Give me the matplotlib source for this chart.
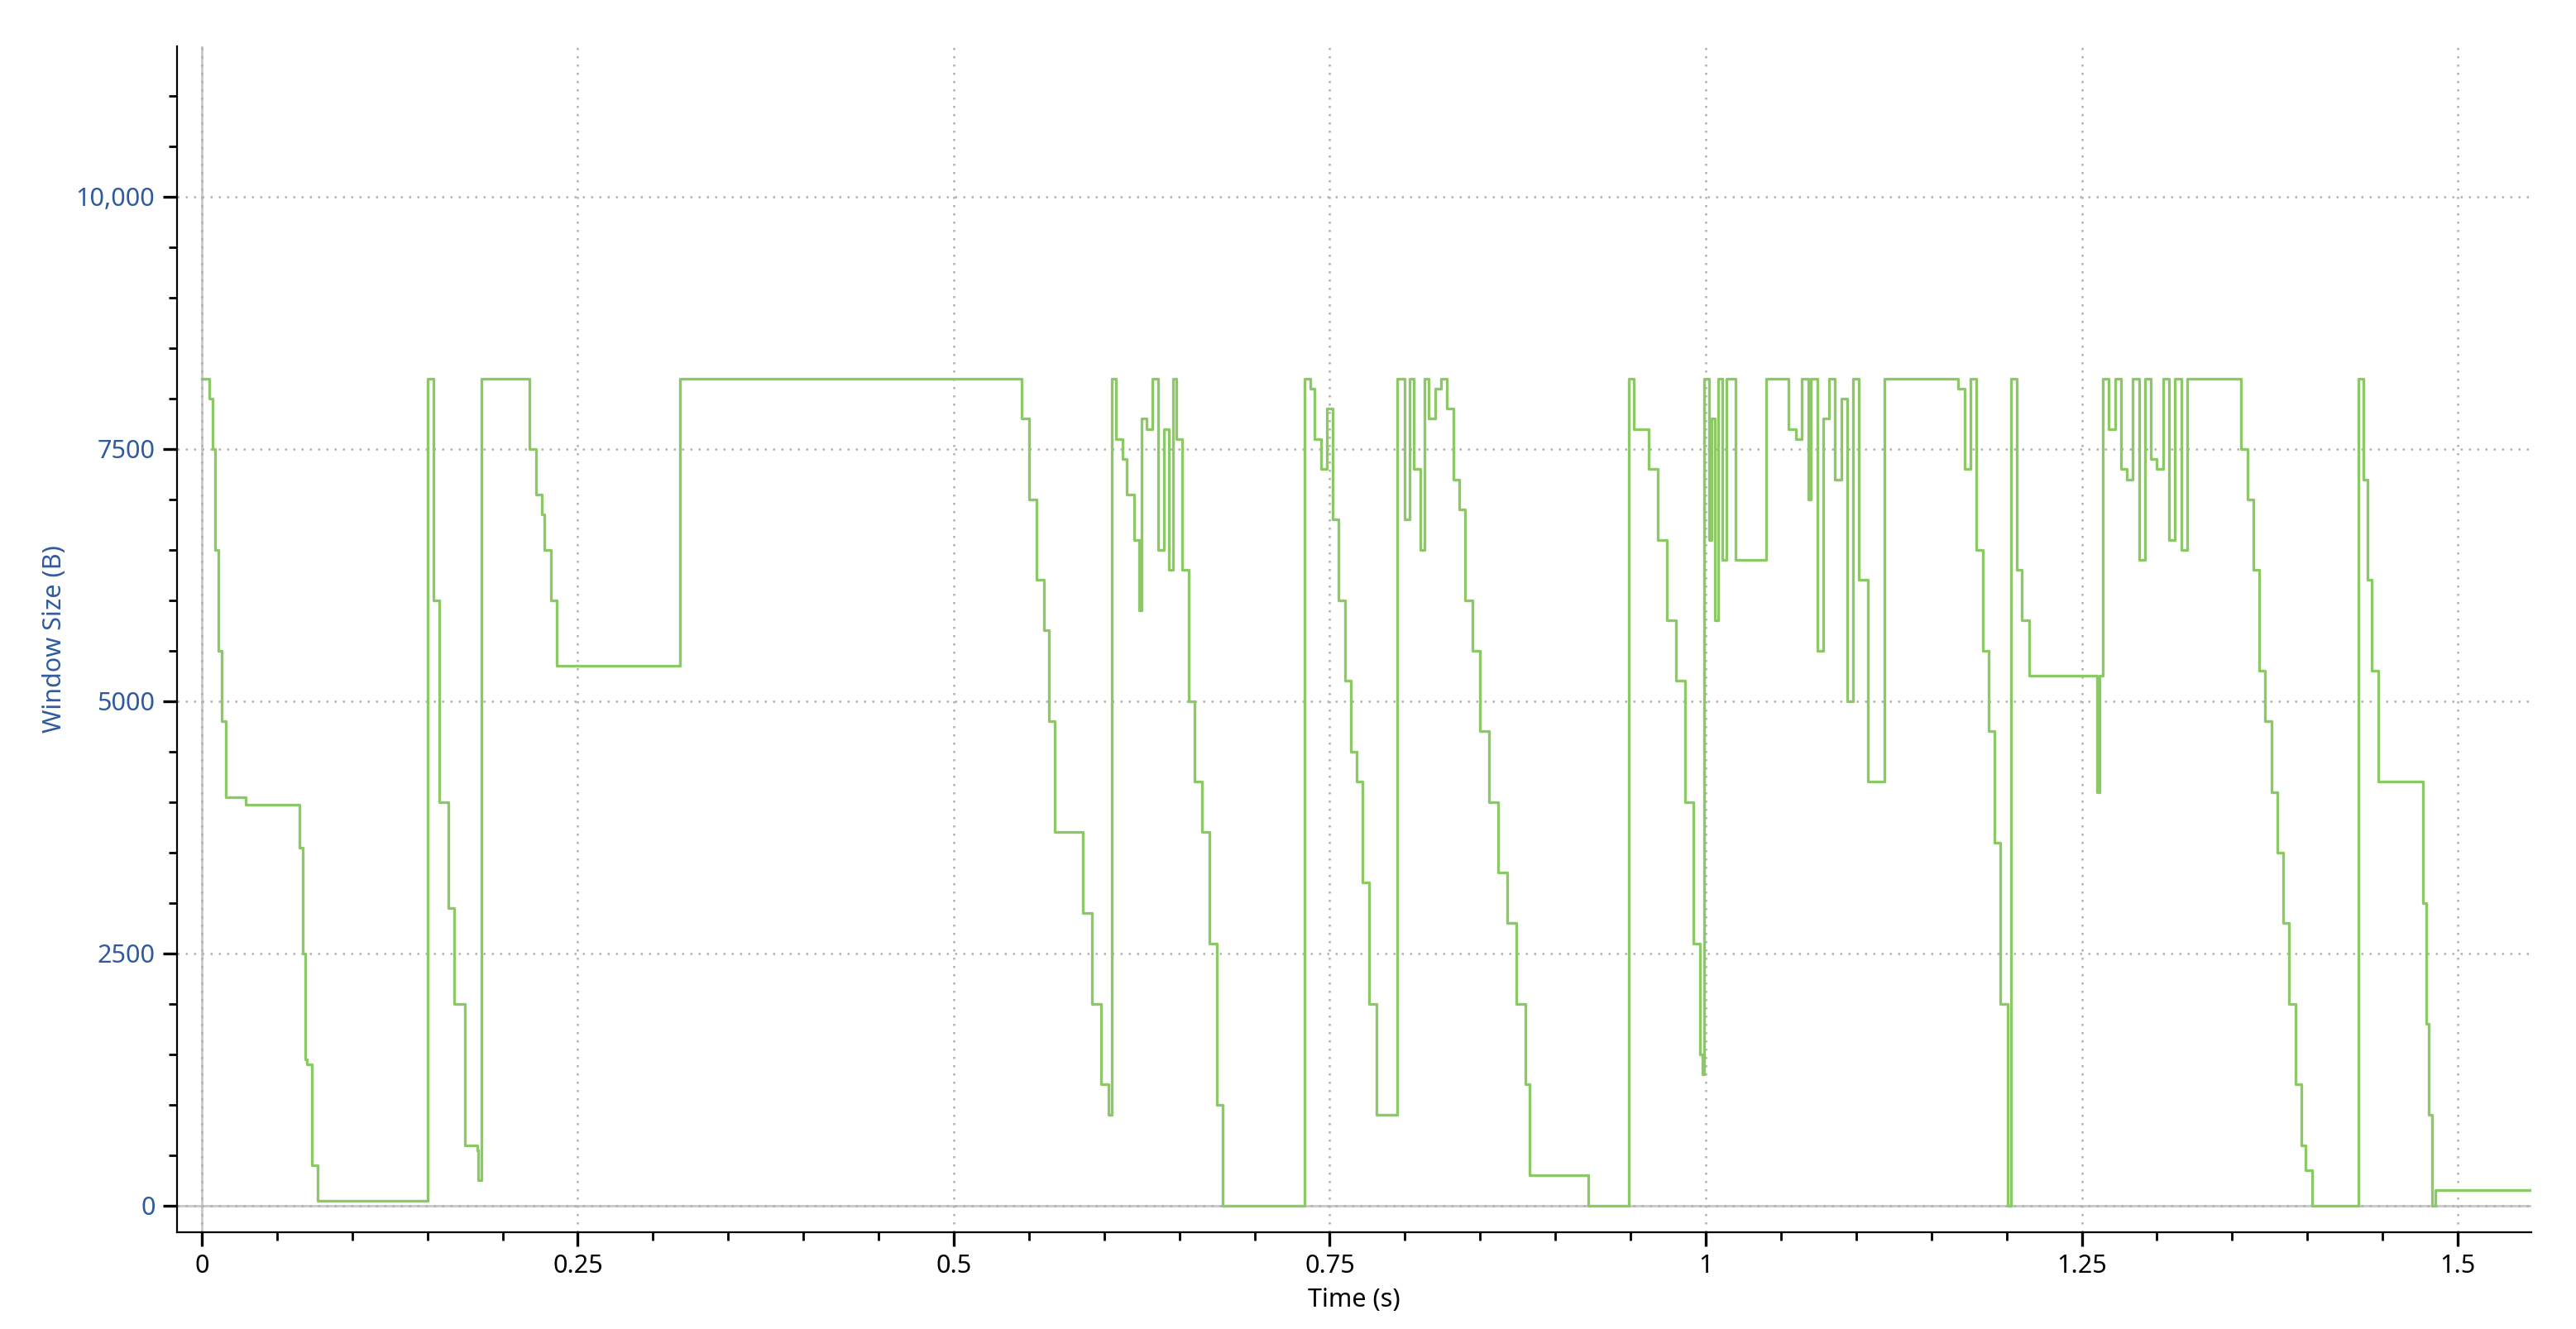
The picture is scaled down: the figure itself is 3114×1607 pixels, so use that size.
import numpy as np
import matplotlib
matplotlib.use('Agg')
import matplotlib.pyplot as plt
from matplotlib.ticker import MultipleLocator, FuncFormatter

plt.rcParams['font.family'] = ['Noto Sans', 'DejaVu Sans']

# window size trace (time s, bytes), drawn as a step line
t = [0.000, 0.003, 0.005, 0.007, 0.009, 0.011, 0.013, 0.016, 0.029, 0.065, 0.067, 0.069, 0.070, 0.073, 0.077,
     0.150, 0.154, 0.158, 0.164, 0.168, 0.175, 0.183, 0.184, 0.186,
     0.215, 0.218, 0.222, 0.226, 0.228, 0.232, 0.236, 0.318,
     0.541, 0.545, 0.550, 0.555, 0.560, 0.563, 0.567, 0.586, 0.592, 0.598, 0.603,
     0.605, 0.608, 0.612, 0.615, 0.620, 0.623, 0.625, 0.628, 0.632, 0.636, 0.640, 0.643, 0.646, 0.648,
     0.652, 0.656, 0.660, 0.665, 0.670, 0.675, 0.679,
     0.733, 0.737, 0.740, 0.744, 0.748, 0.752, 0.756, 0.760, 0.764, 0.768, 0.772, 0.776, 0.781,
     0.795, 0.800, 0.803, 0.806, 0.810, 0.813, 0.816, 0.820, 0.824, 0.828, 0.832, 0.836,
     0.840, 0.845, 0.850, 0.856, 0.862, 0.868, 0.874, 0.880, 0.883, 0.922,
     0.949, 0.952, 0.956, 0.962, 0.968, 0.974, 0.980, 0.986, 0.992, 0.996, 0.998,
     0.999, 1.002, 1.004, 1.006, 1.008, 1.011, 1.014, 1.020, 1.040,
     1.050, 1.055, 1.060, 1.064, 1.068, 1.070, 1.074, 1.078, 1.082, 1.086, 1.090, 1.094, 1.098, 1.102,
     1.108, 1.119, 1.160, 1.168, 1.172, 1.176, 1.180, 1.184, 1.188, 1.192, 1.196, 1.201,
     1.203, 1.207, 1.210, 1.215, 1.258, 1.260, 1.262,
     1.264, 1.268, 1.272, 1.276, 1.280, 1.284, 1.288, 1.292, 1.296, 1.300, 1.304, 1.308, 1.312, 1.316, 1.320,
     1.352, 1.356, 1.360, 1.364, 1.368, 1.372, 1.376, 1.380, 1.384, 1.388, 1.392, 1.396, 1.399, 1.403,
     1.434, 1.437, 1.440, 1.443, 1.447, 1.475, 1.477, 1.479, 1.481, 1.483, 1.485, 1.549]
w = [8200, 8200, 8000, 7500, 6500, 5500, 4800, 4050, 3970, 3550, 2500, 1450, 1400, 400, 50,
     8200, 6000, 4000, 2950, 2000, 600, 550, 250, 8200,
     8200, 7500, 7050, 6850, 6500, 6000, 5350, 8200,
     8200, 7800, 7000, 6200, 5700, 4800, 3700, 2900, 2000, 1200, 900,
     8200, 7600, 7400, 7050, 6600, 5900, 7800, 7700, 8200, 6500, 7700, 6300, 8200, 7600,
     6300, 5000, 4200, 3700, 2600, 1000, 0,
     8200, 8100, 7600, 7300, 7900, 6800, 6000, 5200, 4500, 4200, 3200, 2000, 900,
     8200, 6800, 8200, 7300, 6500, 8200, 7800, 8100, 8200, 7900, 7200, 6900,
     6000, 5500, 4700, 4000, 3300, 2800, 2000, 1200, 300, 0,
     8200, 7700, 7700, 7300, 6600, 5800, 5200, 4000, 2600, 1500, 1300,
     8200, 6600, 7800, 5800, 8200, 6400, 8200, 6400, 8200,
     8200, 7700, 7600, 8200, 7000, 8200, 5500, 7800, 8200, 7200, 8000, 5000, 8200, 6200,
     4200, 8200, 8200, 8100, 7300, 8200, 6500, 5500, 4700, 3600, 2000, 0,
     8200, 6300, 5800, 5250, 5250, 4100, 5250,
     8200, 7700, 8200, 7300, 7200, 8200, 6400, 8200, 7400, 7300, 8200, 6600, 8200, 6500, 8200,
     8200, 7500, 7000, 6300, 5300, 4800, 4100, 3500, 2800, 2000, 1200, 600, 350, 0,
     8200, 7200, 6200, 5300, 4200, 4200, 3000, 1800, 900, 0, 150, 150]

fig = plt.figure(figsize=(15.57, 8.035), dpi=200)
ax = fig.add_axes([0.0687, 0.073, 0.914, 0.892])

ax.axhline(0, color='#c8c8c8', lw=1.0, zorder=1)
ax.axvline(0, color='#c8c8c8', lw=1.0, zorder=1)
ax.step(t, w, where='post', color='#8cc865', lw=1.2, zorder=3)

ax.set_xlim(-0.0165, 1.549)
ax.set_ylim(-262, 11490)
ax.xaxis.set_major_locator(MultipleLocator(0.25))
ax.xaxis.set_minor_locator(MultipleLocator(0.05))
ax.yaxis.set_major_locator(MultipleLocator(2500))
ax.yaxis.set_minor_locator(MultipleLocator(500))
ax.xaxis.set_major_formatter(FuncFormatter(lambda v, p: ('%g' % v)))
ax.yaxis.set_major_formatter(FuncFormatter(lambda v, p: ('{:,.0f}'.format(v) if v >= 10000 else '%d' % v)))
ax.grid(True, which='major', ls=(0, (1, 3)), color='#b0b0b0', lw=0.9)
for s in ['top', 'right']:
    ax.spines[s].set_visible(False)
ax.tick_params(which='major', length=6, width=1.2, labelsize=11)
ax.tick_params(which='minor', length=3.5, width=1.0)
ax.tick_params(axis='y', labelcolor='#2f5b9e')
ax.set_xlabel('Time (s)', fontsize=11)
ax.set_ylabel('Window Size (B)', fontsize=11, color='#2f5b9e')

fig.savefig('out.png', dpi=200)
